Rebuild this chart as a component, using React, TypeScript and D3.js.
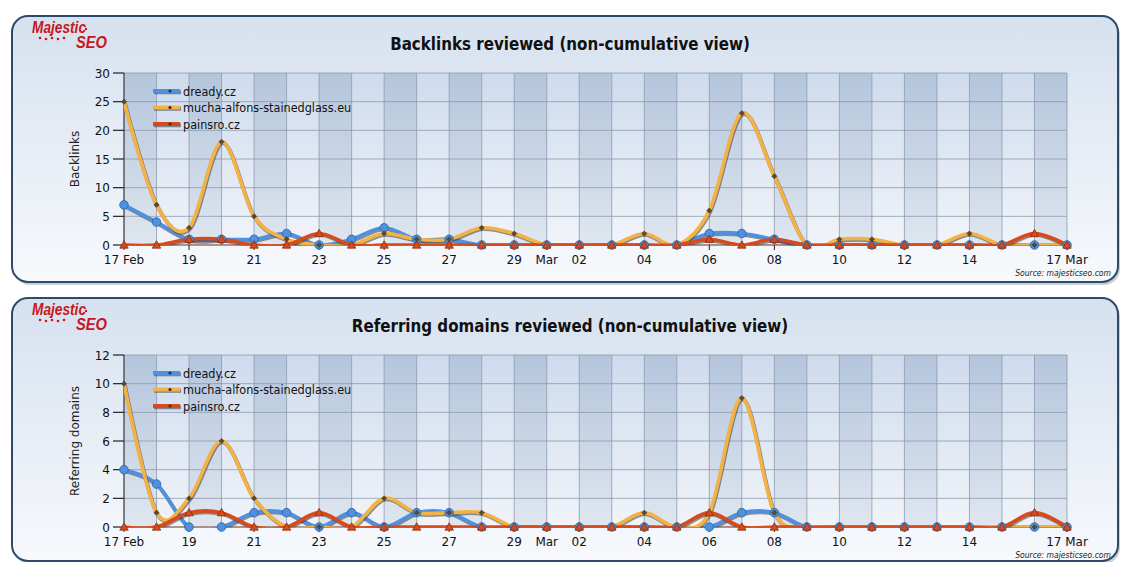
import React from "react";
import * as d3 from "d3";

// ---------- data ----------
const dates = [
  "2012-02-17", "2012-02-18", "2012-02-19", "2012-02-20", "2012-02-21", "2012-02-22",
  "2012-02-23", "2012-02-24", "2012-02-25", "2012-02-26", "2012-02-27", "2012-02-28",
  "2012-02-29", "2012-03-01", "2012-03-02", "2012-03-03", "2012-03-04", "2012-03-05",
  "2012-03-06", "2012-03-07", "2012-03-08", "2012-03-09", "2012-03-10", "2012-03-11",
  "2012-03-12", "2012-03-13", "2012-03-14", "2012-03-15", "2012-03-16", "2012-03-17",
];

const xTickDates = [
  "2012-02-17", "2012-02-19", "2012-02-21", "2012-02-23", "2012-02-25", "2012-02-27",
  "2012-02-29", "2012-03-01", "2012-03-02", "2012-03-04", "2012-03-06", "2012-03-08",
  "2012-03-10", "2012-03-12", "2012-03-14", "2012-03-17",
];
const xTickTexts = [
  "17 Feb", "19", "21", "23", "25", "27", "29", "Mar", "02", "04", "06", "08", "10", "12", "14", "17 Mar",
];

const seriesNames = ["dready.cz", "mucha-alfons-stainedglass.eu", "painsro.cz"];

const backlinksDready = [7, 4, 1, 1, 1, 2, 0, 1, 3, 1, 1, 0, 0, 0, 0, 0, 0, 0, 2, 2, 1, 0, 0, 0, 0, 0, 0, 0, 0, 0];
const backlinksMucha = [25, 7, 3, 18, 5, 1, 0, 0, 2, 1, 1, 3, 2, 0, 0, 0, 2, 0, 6, 23, 12, 0, 1, 1, 0, 0, 2, 0, 0, 0];
const backlinksPainsro = [0, 0, 1, 1, 0, 0, 2, 0, 0, 0, 0, 0, 0, 0, 0, 0, 0, 0, 1, 0, 1, 0, 0, 0, 0, 0, 0, 0, 2, 0];

const referringDready = [4, 3, 0, 0, 1, 1, 0, 1, 0, 1, 1, 0, 0, 0, 0, 0, 0, 0, 0, 1, 1, 0, 0, 0, 0, 0, 0, 0, 0, 0];
const referringMucha = [10, 1, 2, 6, 2, 0, 0, 0, 2, 1, 1, 1, 0, 0, 0, 0, 1, 0, 1, 9, 1, 0, 0, 0, 0, 0, 0, 0, 0, 0];
const referringPainsro = [0, 0, 1, 1, 0, 0, 1, 0, 0, 0, 0, 0, 0, 0, 0, 0, 0, 0, 1, 0, 0, 0, 0, 0, 0, 0, 0, 0, 1, 0];

const backlinksTicks = [0, 5, 10, 15, 20, 25, 30];
const referringTicks = [0, 2, 4, 6, 8, 10, 12];

// ---------- style ----------
const W = 1122;
const H = 562;
const FONT_C = "'DejaVu Sans Condensed', 'DejaVu Sans', sans-serif";
const FONT = "'DejaVu Sans', sans-serif";
const COLORS = ["#4d91e0", "#f4b245", "#d84a1a"];
const MARKER_STROKE = ["#2d5f9a", "#7a5a20", "#8a2c10"];

const parse = d3.utcParse("%Y-%m-%d");
const dateObjs = dates.map((d) => parse(d) as Date);
const x = d3.scaleUtc().domain([dateObjs[0], dateObjs[dateObjs.length - 1]]).range([124, 1067]);

type PanelProps = {
  id: string;
  offset: number;
  height: number;
  title: string;
  yLabel: string;
  ticks: number[];
  series: number[][];
};

function Marker({ kind, cx, cy, color, stroke }: { kind: number; cx: number; cy: number; color: string; stroke: string }) {
  if (kind === 0) {
    return <circle cx={cx} cy={cy} r={4.3} fill={color} stroke={stroke} strokeWidth={0.8} />;
  }
  if (kind === 1) {
    const s = 2.6;
    return (
      <path
        d={`M${cx},${cy - s}L${cx + s},${cy}L${cx},${cy + s}L${cx - s},${cy}Z`}
        fill="#5a4a30"
        stroke="#3a3020"
        strokeWidth={0.5}
      />
    );
  }
  const s = 4.2;
  return (
    <path
      d={`M${cx},${cy - s}L${cx + s},${cy + s * 0.75}L${cx - s},${cy + s * 0.75}Z`}
      fill={color}
      stroke={stroke}
      strokeWidth={0.8}
    />
  );
}

function Panel({ id, offset, height, title, yLabel, ticks, series }: PanelProps) {
  const top = 16 + offset;
  const y0 = 245 + offset;
  const y1 = 73 + offset;
  const y = d3.scaleLinear().domain([0, d3.max(ticks) as number]).range([y0, y1]);
  const line = d3
    .line<number>()
    .x((_, i) => x(dateObjs[i]))
    .y((v) => y(v))
    .curve(d3.curveCardinal.tension(0));

  const bands = dateObjs.slice(0, -1).map((d, i) => ({
    x0: x(d),
    x1: x(dateObjs[i + 1]),
    dark: i % 2 === 0,
  }));

  return (
    <g>
      <defs>
        <linearGradient id={`${id}-bg`} x1="0" y1="0" x2="0" y2="1">
          <stop offset="0" stopColor="#d6e1ef" />
          <stop offset="1" stopColor="#f7f9fc" />
        </linearGradient>
        <linearGradient id={`${id}-dark`} x1="0" y1="0" x2="0" y2="1">
          <stop offset="0" stopColor="#b4c5dc" />
          <stop offset="1" stopColor="#dfe6ef" />
        </linearGradient>
        <linearGradient id={`${id}-light`} x1="0" y1="0" x2="0" y2="1">
          <stop offset="0" stopColor="#cedbed" />
          <stop offset="1" stopColor="#f1f4f9" />
        </linearGradient>
        <clipPath id={`${id}-clip`}>
          <rect x={x.range()[0]} y={top} width={x.range()[1] - x.range()[0] + 6} height={y0 - top + 0.5} />
        </clipPath>
      </defs>
      {/* panel */}
      <rect x={14} y={top + 3} width={1106} height={height} rx={16} fill="#9aa3ad" opacity={0.5} />
      <rect
        x={12}
        y={top}
        width={1106}
        height={height}
        rx={16}
        fill={`url(#${id}-bg)`}
        stroke="#2f4a68"
        strokeWidth={2}
      />
      {/* logo */}
      <g fontFamily="'Liberation Sans', Arial, sans-serif" fontWeight="bold" fontStyle="italic" fill="#c8161d">
        <text x={32} y={top + 17} fontSize={16} textLength={54} lengthAdjust="spacingAndGlyphs">
          Majestic
        </text>
        <text x={76} y={top + 32} fontSize={17} textLength={31} lengthAdjust="spacingAndGlyphs">
          SEO
        </text>
        {[0, 1, 2, 3, 4].map((k) => (
          <circle key={k} cx={40 + k * 6} cy={top + 22 + (k % 2) * 1} r={1.3} />
        ))}
        <circle cx={86} cy={top + 13} r={1.2} />
      </g>
      {/* title */}
      <text
        x={570}
        y={top + 34}
        textAnchor="middle"
        fontFamily={FONT_C}
        fontWeight="bold"
        fontSize={16.8}
        fill="#111"
      >
        {title}
      </text>
      {/* plot bands */}
      {bands.map((b, i) => (
        <rect
          key={i}
          x={b.x0}
          y={y1}
          width={b.x1 - b.x0}
          height={y0 - y1}
          fill={`url(#${id}-${b.dark ? "dark" : "light"})`}
        />
      ))}
      {/* grid */}
      {ticks.map((t) => (
        <line key={`h${t}`} x1={x.range()[0]} x2={x.range()[1]} y1={y(t)} y2={y(t)} stroke="#8796aa" strokeOpacity={0.75} />
      ))}
      {dateObjs.map((d, i) => (
        <line key={`v${i}`} x1={x(d)} x2={x(d)} y1={y1} y2={y0} stroke="#8796aa" strokeOpacity={0.75} />
      ))}
      {/* y axis */}
      <line x1={124} x2={124} y1={y1} y2={y0} stroke="#333" strokeWidth={1} />
      {ticks.map((t) => (
        <g key={`yt${t}`}>
          <line x1={113} x2={124} y1={y(t)} y2={y(t)} stroke="#222" strokeWidth={1.2} />
          <text x={110} y={y(t) + 4.5} textAnchor="end" fontFamily={FONT} fontSize={12} fill="#111">
            {t}
          </text>
        </g>
      ))}
      <text
        transform={`translate(79,${(y0 + y1) / 2}) rotate(-90)`}
        textAnchor="middle"
        fontFamily={FONT}
        fontSize={12}
        fill="#222"
      >
        {yLabel}
      </text>
      {/* x axis */}
      <line x1={124} x2={1067} y1={y0} y2={y0} stroke="#a0503a" strokeWidth={1} />
      {xTickDates.map((d, i) => {
        const xx = x(parse(d) as Date);
        return (
          <g key={`xt${i}`}>
            <line x1={xx} x2={xx} y1={y0} y2={y0 + 5} stroke="#222" />
            <text x={xx} y={y0 + 19} textAnchor="middle" fontFamily={FONT} fontSize={12} fill="#111">
              {xTickTexts[i]}
            </text>
          </g>
        );
      })}
      {/* lines */}
      <g clipPath={`url(#${id}-clip)`}>
        {series.map((s, k) => (
          <g key={`l${k}`}>
            <path d={line(s) ?? ""} fill="none" stroke="#3a3a3a" strokeOpacity={0.55} strokeWidth={4} transform="translate(0.8,1.3)" />
            <path d={line(s) ?? ""} fill="none" stroke={COLORS[k]} strokeWidth={3.6} strokeLinejoin="round" />
          </g>
        ))}
      </g>
      {/* markers */}
      {series.map((s, k) => (
        <g key={`m${k}`}>
          {s.map((v, i) => (
            <Marker key={i} kind={k} cx={x(dateObjs[i])} cy={y(v)} color={COLORS[k]} stroke={MARKER_STROKE[k]} />
          ))}
        </g>
      ))}
      {/* legend */}
      {seriesNames.map((n, k) => {
        const ly = y1 + 18 + k * 16.5;
        return (
          <g key={`lg${k}`}>
            <line x1={154} x2={181} y1={ly + 1.3} y2={ly + 1.3} stroke="#3a3a3a" strokeOpacity={0.55} strokeWidth={4} />
            <line x1={153} x2={180} y1={ly} y2={ly} stroke={COLORS[k]} strokeWidth={4} />
            <circle cx={170} cy={ly} r={1.6} fill="#333" />
            <text x={183} y={ly + 4.5} fontFamily={FONT_C} fontSize={12.5} fill="#111">
              {n}
            </text>
          </g>
        );
      })}
      {/* source */}
      <text x={1111} y={y0 + 31} textAnchor="end" fontFamily={FONT_C} fontStyle="italic" fontSize={8.5} fill="#222">
        Source: majesticseo.com
      </text>
    </g>
  );
}

export default function App() {
  return (
    <svg
      width={W}
      height={H}
      viewBox={`0 0 ${W} ${H}`}
      style={{ position: "absolute", left: 0, top: 0, background: "#ffffff" }}
    >
      <Panel
        id="bl"
        offset={0}
        height={266}
        title="Backlinks reviewed (non-cumulative view)"
        yLabel="Backlinks"
        ticks={backlinksTicks}
        series={[backlinksDready, backlinksMucha, backlinksPainsro]}
      />
      <Panel
        id="rd"
        offset={282}
        height={263}
        title="Referring domains reviewed (non-cumulative view)"
        yLabel="Referring domains"
        ticks={referringTicks}
        series={[referringDready, referringMucha, referringPainsro]}
      />
    </svg>
  );
}
